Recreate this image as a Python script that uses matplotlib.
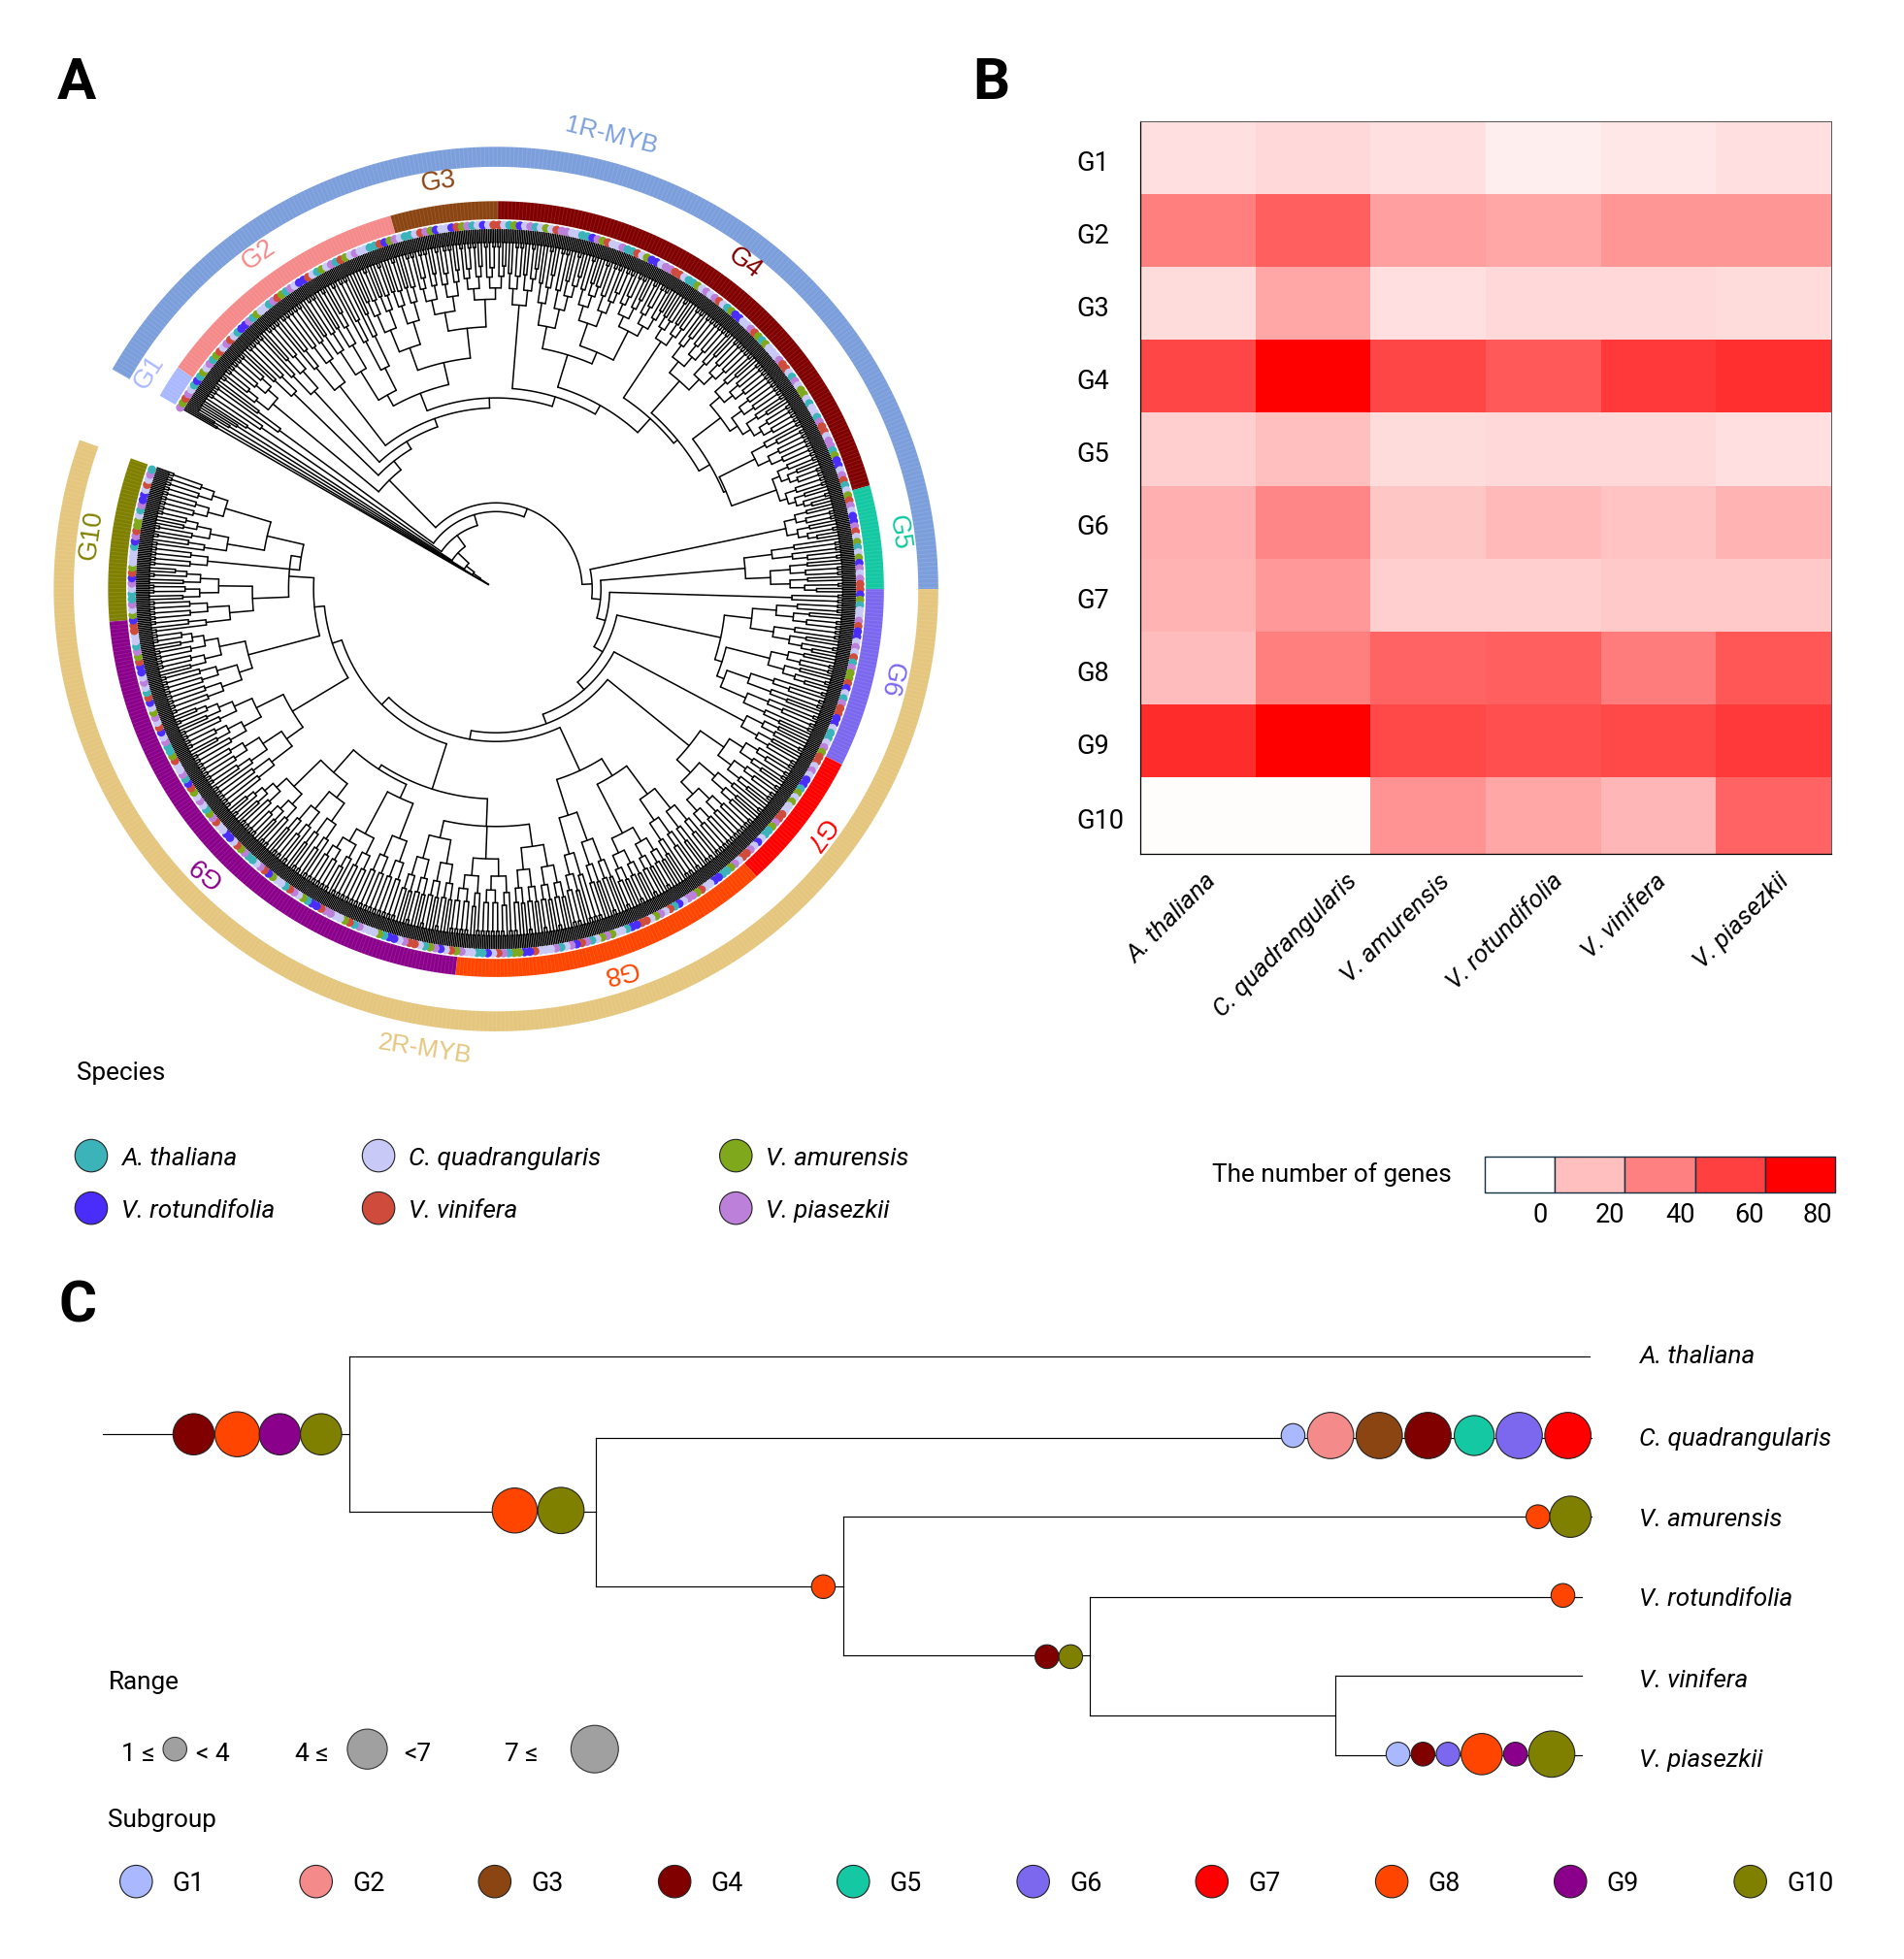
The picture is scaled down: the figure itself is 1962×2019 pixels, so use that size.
import matplotlib
matplotlib.use('Agg')
import matplotlib.pyplot as plt
import numpy as np
from matplotlib.collections import LineCollection
from matplotlib.colors import LinearSegmentedColormap
from matplotlib.patches import Circle
from matplotlib.transforms import ScaledTranslation

plt.rcParams['font.family'] = ['Roboto', 'DejaVu Sans']

species = ['A. thaliana', 'C. quadrangularis', 'V. amurensis',
           'V. rotundifolia', 'V. vinifera', 'V. piasezkii']
species_colors = {'a': '#3BB3B9', 'c': '#C9C9F7', 'm': '#80A81C',
                  'r': '#4A2CFB', 'v': '#CF4B3B', 'p': '#BC80DB'}

groups = ['G1', 'G2', 'G3', 'G4', 'G5', 'G6', 'G7', 'G8', 'G9', 'G10']
group_colors = ['#AAB9FF', '#F58A8A', '#8B4513', '#800000', '#13C8A2',
                '#7B68EE', '#FF0000', '#FF4500', '#8B008B', '#808000']
# subgroup borders on the ring, degrees, clockwise from the gap
group_edges = [150.1, 145.1, 105.8, 89.7, 15.5, 0.0, -26.9, -47.8, -96.0, -175.2, -199.7]

# number of genes per species, one row per subgroup
gene_counts = [
    [10, 12, 10, 5.5, 7.5, 10],
    [40, 50, 30, 28, 33, 33],
    [11, 28, 10, 12, 12, 11],
    [58, 80, 58, 52, 62, 65],
    [15, 20, 11, 12, 12, 10],
    [25, 38, 18, 22, 19, 24],
    [24, 32, 15, 15, 17, 17],
    [21, 40, 49, 50, 41, 53],
    [66, 80, 57, 55, 57, 62],
    [1, 1, 34, 28, 23, 49],
]

# species dots round the fan
tip_species = (
    'pmvpcaramcpamvcpvcarrpamccapvmapcrrvcamcpavmcpccaavrmpcaacvpmrcc'
    'rvmpacrcvvcamrcpacmcvppccaarpmvccpaavcmrrcppvvcaamcpcpvcamrrccpv'
    'mamcccpvvcapcmmcaccapvvcppamrrcpvacmvpcrrpvcmacmrpcpvvrmaccpvrrc'
    'pcvapmmvrcapvvrrcaacpmvvcpcrramcmccvvpmaacrcpvvcpmaarrccvmppcrav'
    'cpmcvvrraccmpmcapvrpcapcccvrrmmapvcraaccpmvcrpmacvvpcrramcccpavm'
    'ccppvrramcpvaccmrvpcaapmvcrrccvpmacpcmvrapccvmaapcrvcpmcrvacpcrr'
    'vmpaccvvrmcpaacprvmcccarpvmmcaprrcvcpamvcpcrramvvpcaccprmvvacrpc'
    'cmapvrrcpamcvcpcmrvaappcrvmcacpvrrmcpccavvmacprcpmvracccpvamrrcp'
    'vacmcpavrrmcpvcacpmvrcaccpvmmrapcrvcpaacmvcrrpvcmaccpvrrmcapvccp'
    'mrvcaacppvrcmcrvapccmvrpacvrmcpcaavrmcpcvrrmaccpvmapcrcvmpcaarvp'
    'cmcvrpacvmmcpaccrvvpmacrpcvmaarcpcvmrrpcacvmpcacrrvmpcvamcprvccp'
    'amvrcpcacmrvpmcvaacprrvmcpcavm'
)

# fan of the family: (node radius, children), a leaf is (radius, tips)
fan_tail = [
    (145, [(205, 20), (153, [
        (168, [(178, [(205, 21), (198, 15)]),
               (186, [(205, 36), (210, [(225, 30), (232, 30)])])]),
        (161, [(228, 21), (169, [
            (196, [(214, 28), (206, [(225, 27), (232, 30)])]),
            (184, [(238, 18), (188, [
                (222, 39),
                (198, [(226, 50), (200, [(232, 20), (214, [(238, 33)])])]),
            ])]),
        ])]),
    ])]),
]
clade_1r = (122, [(232, 20), (131, [(225, 10), (138, [(215, 16)] + fan_tail)])])

g6_clade = (184, [(206, 33), (190, [(226, 21), (196, [(215, 15), (218, 15)])])])
g7_clade = (199, [(222, 30), (214, 38)])
g8_clade = (160, [(176, [(204, 30), (198, [(220, 36)])]), (170, [(190, [(214, 18), (220, 16)])])])
low_left = (168, [(190, [(208, 36), (216, 39), (204, 36)]),
                  (172, [(184, [(214, 24), (222, 32)]), (196, [(210, 30), (226, 33)])])])
g9_mid = (190, [(206, 32), (214, 33)])
g9_top = (205, [(216, 24), (226, 26)])
g10_ladder = (166, [(195, [(214, 20), (222, 21)]),
                    (158, [(232, 12), (188, [(218, 22), (226, 24)])])])
clade_2r = (91, [(237, 6), (99, [g6_clade, (107, [(225, 18), (115, [g7_clade, (122, [
    g8_clade, (130, [low_left, (138, [g9_mid, (146, [g9_top, g10_ladder])])])])])])])])
tree = (7, [(258, 2), (15, [(262, 2), (22, [(250, 3), (30, [(245, 3), (42, [(238, 4), (53, [
    (228, 6), (62, [(215, 7), (69, [clade_1r,
        (77, [(237, 21), (84, [(200, 34), clade_2r])])])])])])])])])])

# species tree of panel C, node x and row y in the shrunken picture units
species_rows = [1086, 1152, 1216, 1280, 1345, 1409]
tree_h = [(82, 280, 1148), (280, 1272, 1086), (280, 477, 1210), (477, 1274, 1151),
          (477, 675, 1270), (675, 1274, 1214), (675, 872, 1325), (872, 1266, 1278),
          (872, 1069, 1373), (1069, 1266, 1341), (1069, 1266, 1405)]
tree_v = [(280, 1086, 1210), (477, 1151, 1270), (675, 1214, 1325),
          (872, 1278, 1373), (1069, 1341, 1405)]
# gains on the species tree: subgroup index, x, y, radius
gains = [
    (3, 155, 1148, 16.5), (7, 190, 1148, 18), (8, 224, 1148, 16.5), (9, 257, 1148, 16.5),
    (7, 412, 1209, 18), (9, 449, 1209, 18.5), (7, 659, 1270, 9.5),
    (3, 838, 1326, 9.5), (9, 857, 1326, 9.5),
    (0, 1035, 1149, 9.5), (1, 1065, 1149, 18.5), (2, 1104, 1149, 18.5), (3, 1143, 1149, 18.5),
    (4, 1180, 1149, 16), (5, 1216, 1149, 18.5), (6, 1255, 1149, 18.5),
    (7, 1231, 1214, 9.5), (9, 1257, 1214, 16.5), (7, 1251, 1277, 9.5),
    (0, 1119, 1404, 9.5), (3, 1139, 1404, 9.5), (5, 1159, 1404, 9.5),
    (7, 1186, 1404, 16.5), (8, 1213, 1404, 9.5), (9, 1242, 1404, 18.5),
]

CX, CY = 397, 471.5
R_TIP = 288
TXT = 18.8

fig = plt.figure(figsize=(19.62, 20.19), dpi=100)
ax = fig.add_axes([0, 0, 1, 1])
ax.set_xlim(0, 1524)
ax.set_ylim(1568, 0)
ax.axis('off')


def xy(r, deg):
    a = np.radians(deg)
    return CX + r * np.cos(a), CY - r * np.sin(a)


def count_tips(t):
    if isinstance(t[1], int):
        return t[1]
    return sum(count_tips(k) for k in t[1])


n_tips = count_tips(tree)
tip_angles = np.linspace(group_edges[0], group_edges[-1], n_tips)
segs = []
cursor = [0]


def comb_r(r, n):
    # clades step towards a depth under the tips, bigger ones further in
    target = R_TIP - (6.5 + 4 * np.log2(max(n, 2)) ** 1.4)
    if n <= 3:
        return max(r + 1.5, target)
    return max(r + 2.5, r + (target - r) * 0.4)


def walk(node, parent_r):
    r, kids = node
    if isinstance(kids, int) and kids == 1:
        ang = tip_angles[cursor[0]]
        cursor[0] += 1
        segs.append([xy(parent_r, ang), xy(R_TIP, ang)])
        return ang
    if isinstance(kids, int):
        first = max(1, int(round(kids * (0.38 if kids % 3 else 0.5))))
        kids = [(comb_r(r, first), first), (comb_r(r, kids - first), kids - first)]
    angs = [walk(k, r) for k in kids]
    a0, a1 = angs[0], angs[-1]
    mid = (a0 + a1) / 2
    arc = np.linspace(a0, a1, max(2, int(abs(a1 - a0)) * 2 + 2))
    segs.append(list(zip(*xy(r, arc))))
    segs.append([xy(parent_r, mid), xy(r, mid)])
    return mid


walk(tree, 7)
ax.add_collection(LineCollection(segs, colors='k', linewidths=1.1, capstyle='round', zorder=2))

# species dots
dot_i = np.arange(0, n_tips, 3)
dot_x, dot_y = xy(291.5, tip_angles[dot_i])
dot_c = [species_colors[tip_species[i % len(tip_species)]] for i in range(len(dot_i))]
ax.scatter(dot_x, dot_y, s=40, c=dot_c, linewidths=0, zorder=3)


def ring(r0, r1, a0, a1, color):
    arc = np.linspace(a0, a1, 200)
    x0, y0 = xy(r0, arc)
    x1, y1 = xy(r1, arc[::-1])
    ax.fill(np.r_[x0, x1], np.r_[y0, y1], color=color, lw=0, zorder=1)


for i, c in enumerate(group_colors):
    ring(296, 310.5, group_edges[i], group_edges[i + 1], c)
ring(338, 354, 150.2, 0.0, '#7C9FDC')
ring(338, 354, 0.0, -199.7, '#E5C67E')

# faint stripe per tip on both rings
stripe = []
for a in tip_angles[::2]:
    stripe.append([xy(296, a), xy(310.5, a)])
    stripe.append([xy(338, a), xy(354, a)])
ax.add_collection(LineCollection(stripe, colors='w', linewidths=0.5, alpha=0.14, zorder=1.5))

ring_labels = [('G1', 119, 298, 57), ('G2', 207, 204, 35), ('G3', 351, 146, 8),
               ('G4', 596, 211, -37), ('G5', 719, 426, -82), ('G6', 713, 544, -103),
               ('G7', 655, 668, -127), ('G8', 496, 777, -167), ('G9', 165, 697, 142),
               ('G10', 73, 428, 82)]
for i, (s, x, y, rot) in enumerate(ring_labels):
    ax.text(x, y, s, color=group_colors[i], fontsize=19.5, rotation=rot, ha='center',
            va='center', family='Liberation Sans')
ax.text(489, 109, '1R-MYB', color='#7C9FDC', fontsize=18.5, rotation=-14, ha='center',
        va='center', family='Liberation Sans')
ax.text(340, 840, '2R-MYB', color='#E5C67E', fontsize=18.5, rotation=-8.8, ha='center',
        va='center', family='Liberation Sans')

# panel letters
for s, x, y in [('A', 61, 67), ('B', 793, 67), ('C', 62, 1046)]:
    ax.text(x, y, s, fontsize=43, fontweight='bold', ha='center', va='center')

# species legend
ax.text(61, 859, 'Species', fontsize=TXT, va='center')
legend_spots = [(73, 925), (303, 925), (589, 925), (73, 967), (303, 967), (589, 967)]
for (x, y), s, k in zip(legend_spots, species, 'acmrvp'):
    ax.add_patch(Circle((x, y), 13, fc=species_colors[k], ec='#222222', lw=0.8))
    ax.text(x + 24, y + 2, s, fontsize=TXT, style='italic', va='center')

# gene count key
ax.text(970, 940, 'The number of genes', fontsize=TXT, va='center')
key_edges = [1188.5, 1244.5, 1300.5, 1357, 1413, 1469]
key_colors = ['#FFFFFF', '#FFBFBF', '#FF8080', '#FF4040', '#FF0000']
key_labels = ['0', '20', '40', '60', '80']
key_label_x = [1233, 1289, 1345, 1400, 1455]
for i in range(5):
    ax.fill_between(key_edges[i:i + 2], 926, 954.5, facecolor=key_colors[i],
                    edgecolor='#12303F', lw=1.0)
    ax.text(key_label_x[i], 973, key_labels[i], fontsize=TXT + 0.7, ha='center', va='center')

# panel C species tree
for x0, x1, y in tree_h:
    ax.plot([x0, x1], [y, y], color='k', lw=0.85, zorder=1)
for x, y0, y1 in tree_v:
    ax.plot([x, x], [y0, y1], color='k', lw=0.85, zorder=1)
for g, x, y, r in gains:
    ax.add_patch(Circle((x, y), r, fc=group_colors[g], ec='#222222', lw=0.8, zorder=3))
for y, s in zip(species_rows, species):
    ax.text(1312, y, s, fontsize=TXT, style='italic', va='center')

# range legend
ax.text(87, 1347, 'Range', fontsize=TXT, va='center')
range_text = [(97, '1 ≤'), (157, '< 4'), (236, '4 ≤'), (323, '<7'), (404, '7 ≤')]
for x, s in range_text:
    ax.text(x, 1404, s, fontsize=19, va='center')
for x, r in [(140, 9.5), (294, 16), (476, 19)]:
    ax.add_patch(Circle((x, 1400), r, fc='#A0A0A0', ec='#333333', lw=0.8))

# subgroup legend
ax.text(86, 1457, 'Subgroup', fontsize=TXT, va='center')
legend_x = [109, 253, 396, 540, 683, 827, 970, 1114, 1257, 1401]
for x, s, c in zip(legend_x, groups, group_colors):
    ax.add_patch(Circle((x, 1506), 13, fc=c, ec='#222222', lw=0.8))
    ax.text(x + 29, 1508, s, fontsize=TXT + 0.5, va='center')

# panel B heatmap, last row a little taller as in the figure
W, H = 1962, 2019
row_edges = np.array([0, 1, 2, 3, 4, 5, 6, 7, 8, 9, 10.05])
col_edges = np.arange(7)
hx = fig.add_axes([1175 / W, 1 - 880 / H, 712 / W, 755 / H])
cmap = LinearSegmentedColormap.from_list('wr', ['#FFFFFF', '#FF0000'])
hx.pcolormesh(col_edges, row_edges, np.array(gene_counts), cmap=cmap, vmin=0, vmax=80)
hx.set_ylim(row_edges[-1], 0)
hx.set_yticks((row_edges[:-1] + row_edges[1:]) / 2)
hx.set_yticklabels(groups, ha='left', fontsize=TXT + 0.7)
hx.set_xticks(col_edges[:-1] + 0.5)
hx.set_xticklabels(species, rotation=45, ha='right', rotation_mode='anchor',
                   fontsize=TXT, style='italic')
hx.tick_params(length=0)
hx.tick_params(axis='y', pad=47)
label_dx = [5, 24, 7, 6, -3, 2.5]
for lab, dx in zip(hx.get_xticklabels(), label_dx):
    lab.set_transform(lab.get_transform() + ScaledTranslation(dx / 72, -8 / 72, fig.dpi_scale_trans))
for lab in hx.get_yticklabels():
    lab.set_transform(lab.get_transform() + ScaledTranslation(0, -2 / 72, fig.dpi_scale_trans))
for side in ['top', 'right']:
    hx.spines[side].set_color('#555555')
    hx.spines[side].set_linewidth(0.7)
for side in ['left', 'bottom']:
    hx.spines[side].set_linewidth(0.9)

fig.savefig('out.png', dpi=100)
